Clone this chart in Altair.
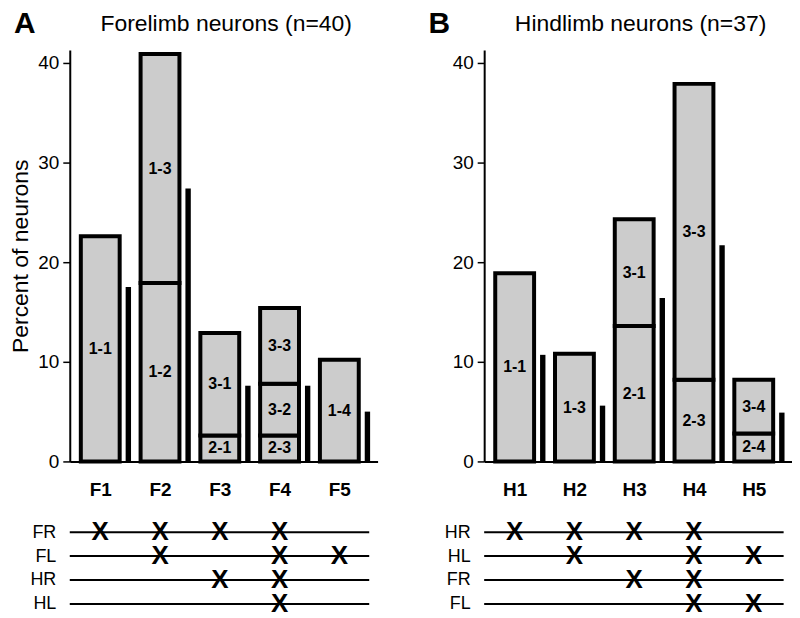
import altair as alt
import pandas as pd

FONT = "Liberation Sans"

# ---------------- Panel A data ----------------
a_cats = ["F1", "F2", "F3", "F4", "F5"]
a_seg_cat = ["F1", "F2", "F2", "F3", "F3", "F4", "F4", "F4", "F5"]
a_seg_label = ["1-1", "1-2", "1-3", "2-1", "3-1", "2-3", "3-2", "3-3", "1-4"]
a_seg_height = [22.6, 17.9, 23.0, 2.6, 10.3, 2.6, 5.2, 7.6, 10.2]
a_black = [17.5, 27.4, 7.6, 7.6, 5.0]
a_rows = ["FR", "FL", "HR", "HL"]
a_mark_row = ["FR", "FR", "FR", "FR", "FL", "FL", "FL", "HR", "HR", "HL"]
a_mark_cat = ["F1", "F2", "F3", "F4", "F2", "F4", "F5", "F3", "F4", "F4"]

# ---------------- Panel B data ----------------
b_cats = ["H1", "H2", "H3", "H4", "H5"]
b_seg_cat = ["H1", "H2", "H3", "H3", "H4", "H4", "H5", "H5"]
b_seg_label = ["1-1", "1-3", "2-1", "3-1", "2-3", "3-3", "2-4", "3-4"]
b_seg_height = [18.9, 10.8, 13.6, 10.7, 8.2, 29.7, 2.8, 5.4]
b_black = [10.7, 5.6, 16.4, 21.7, 4.9]
b_rows = ["HR", "HL", "FR", "FL"]
b_mark_row = ["HR", "HR", "HR", "HR", "HL", "HL", "HL", "FR", "FR", "FL", "FL"]
b_mark_cat = ["H1", "H2", "H3", "H4", "H2", "H4", "H5", "H3", "H4", "H4", "H5"]


def panel(cats, seg_cat, seg_label, seg_height, black, rows, mark_row, mark_cat,
          title, letter, ytitle):
    idx = {c: i for i, c in enumerate(cats)}
    seg = pd.DataFrame({"cat": seg_cat, "label": seg_label, "h": seg_height})
    seg["idx"] = seg["cat"].map(idx)
    seg["end"] = seg.groupby("cat")["h"].cumsum()
    seg["start"] = seg["end"] - seg["h"]
    seg["mid"] = (seg["start"] + seg["end"]) / 2
    blk = pd.DataFrame({"cat": cats, "idx": list(range(len(cats))), "v": black})

    xs = alt.Scale(domain=[-0.51, 4.64], nice=False, zero=False)
    ys = alt.Scale(domain=[0, 41.3], nice=False)

    xaxis = alt.Axis(values=list(range(len(cats))),
                     labelExpr=f"{cats}[datum.value]",
                     ticks=False, grid=False, title=None,
                     labelFontSize=19, labelFontWeight="bold",
                     labelPadding=19, domainWidth=2, labelFont=FONT)
    yaxis_kw = dict(values=[0, 10, 20, 30, 40], grid=False, tickSize=7,
                    tickWidth=1.5, domainWidth=2, labelFontSize=19,
                    labelPadding=4, labelFont=FONT)
    if ytitle:
        yaxis = alt.Axis(title=ytitle, titleFontSize=23, titleFontWeight="normal",
                         titleFont=FONT, titlePadding=5, **yaxis_kw)
    else:
        yaxis = alt.Axis(title=None, **yaxis_kw)

    grey = alt.Chart(seg).transform_calculate(
        x0="datum.idx - 0.325", x1="datum.idx + 0.325"
    ).mark_bar(fill="#cccccc", stroke="black", strokeWidth=4).encode(
        x=alt.X("x0:Q", scale=xs, axis=xaxis),
        x2="x1:Q",
        y=alt.Y("start:Q", scale=ys, axis=yaxis),
        y2="end:Q",
    )
    blackbars = alt.Chart(blk).transform_calculate(
        x0="datum.idx + 0.425", x1="datum.idx + 0.515"
    ).mark_bar(color="black").encode(
        x=alt.X("x0:Q", scale=xs),
        x2="x1:Q",
        y=alt.Y("v:Q", scale=ys),
        y2=alt.Y2Datum(0),
    )
    labels = alt.Chart(seg).mark_text(
        fontSize=16, fontWeight="bold", font=FONT, color="black"
    ).encode(
        x=alt.X("idx:Q", scale=xs),
        y=alt.Y("mid:Q", scale=ys),
        text="label:N",
    )
    letter_t = alt.Chart(pd.DataFrame({"t": [letter]})).mark_text(
        fontSize=30, fontWeight="bold", font=FONT, align="left",
        baseline="middle", color="black"
    ).encode(x=alt.value(-56), y=alt.value(-26), text="t:N")
    title_t = alt.Chart(pd.DataFrame({"t": [title]})).mark_text(
        fontSize=23, font=FONT, align="center", baseline="middle", color="black"
    ).encode(x=alt.value(157), y=alt.value(-26), text="t:N")

    bars = alt.layer(grey, blackbars, labels, letter_t, title_t).properties(
        width=309, height=413,
    )

    rdf = pd.DataFrame({"row": rows})
    ysc = alt.Scale(domain=rows, type="point", padding=0.5)
    rules = alt.Chart(rdf).mark_rule(color="black", strokeWidth=2).encode(
        x=alt.XDatum(-0.51, scale=xs, axis=None),
        x2=alt.X2Datum(4.5),
        y=alt.Y("row:N", scale=ysc,
                axis=alt.Axis(title=None, domain=False, ticks=False,
                              labelFontSize=18, labelPadding=14, labelFont=FONT)),
    )
    mdf = pd.DataFrame({"row": mark_row, "cat": mark_cat})
    mdf["idx"] = mdf["cat"].map(idx)
    xmarks = alt.Chart(mdf).mark_text(
        text="X", fontSize=26, fontWeight="bold", font=FONT, color="black",
        baseline="middle"
    ).encode(
        x=alt.X("idx:Q", scale=xs, axis=None),
        y=alt.Y("row:N", scale=ysc),
    )
    matrix = alt.layer(rules, xmarks).properties(width=309, height=96)

    return alt.vconcat(bars, matrix, spacing=20)


pa = panel(a_cats, a_seg_cat, a_seg_label, a_seg_height, a_black, a_rows,
           a_mark_row, a_mark_cat, "Forelimb neurons (n=40)", "A",
           "Percent of neurons")
pb = panel(b_cats, b_seg_cat, b_seg_label, b_seg_height, b_black, b_rows,
           b_mark_row, b_mark_cat, "Hindlimb neurons (n=37)", "B", None)

chart = alt.hconcat(pa, pb, spacing=51).properties(
    padding={"left": 1, "top": 0, "right": 0, "bottom": 0}
).configure_view(stroke=None).configure_axis(
    domainColor="black", tickColor="black", labelColor="black",
    titleColor="black"
)

chart.save("out.html", embed_options={"renderer": "svg", "actions": False})
